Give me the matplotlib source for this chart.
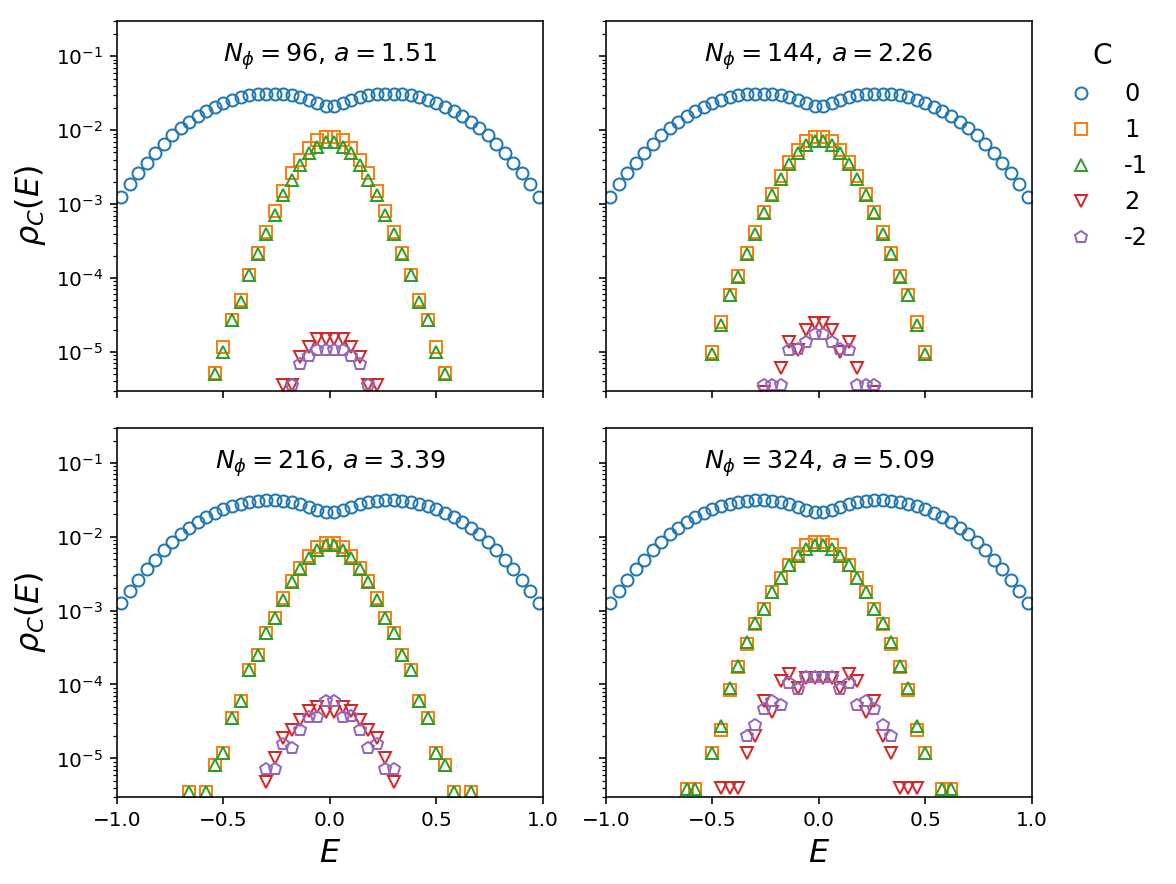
import numpy as np
import matplotlib.pyplot as plt

# ---- datos ----
panel_titles = [r'$N_\phi = 96$, $a = 1.51$', r'$N_\phi = 144$, $a = 2.26$',
                r'$N_\phi = 216$, $a = 3.39$', r'$N_\phi = 324$, $a = 5.09$']
chern_labels = ['0', '1', '-1', '2', '-2']
markers = ['o', 's', '^', 'v', 'p']
colors = ['tab:blue', 'tab:orange', 'tab:green', 'tab:red', 'tab:purple']

# C = 0 (practicamente igual en los cuatro paneles)
E_c0 = [-0.98, -0.94, -0.90, -0.86, -0.82, -0.78, -0.74, -0.70, -0.66, -0.62,
        -0.58, -0.54, -0.50, -0.46, -0.42, -0.38, -0.34, -0.30, -0.26, -0.22,
        -0.18, -0.14, -0.10, -0.06, -0.02, 0.02, 0.06, 0.10, 0.14, 0.18,
        0.22, 0.26, 0.30, 0.34, 0.38, 0.42, 0.46, 0.50, 0.54, 0.58,
        0.62, 0.66, 0.70, 0.74, 0.78, 0.82, 0.86, 0.90, 0.94, 0.98]
rho_c0 = [1.26e-3, 1.86e-3, 2.6e-3, 3.6e-3, 4.9e-3, 6.5e-3, 8.5e-3, 1.07e-2, 1.29e-2, 1.56e-2,
          1.82e-2, 2.09e-2, 2.35e-2, 2.58e-2, 2.8e-2, 2.95e-2, 3.05e-2, 3.1e-2, 3.1e-2, 3.05e-2,
          2.95e-2, 2.78e-2, 2.55e-2, 2.3e-2, 2.15e-2, 2.15e-2, 2.3e-2, 2.55e-2, 2.78e-2, 2.95e-2,
          3.05e-2, 3.1e-2, 3.1e-2, 3.05e-2, 2.95e-2, 2.8e-2, 2.58e-2, 2.35e-2, 2.09e-2, 1.82e-2,
          1.56e-2, 1.29e-2, 1.07e-2, 8.5e-3, 6.5e-3, 4.9e-3, 3.6e-3, 2.6e-3, 1.86e-3, 1.26e-3]

# Panel 1: N_phi = 96
E_c1_p1 = [-0.54, -0.50, -0.46, -0.42, -0.38, -0.34, -0.30, -0.26, -0.22, -0.18, -0.14, -0.10, -0.06, -0.02,
           0.02, 0.06, 0.10, 0.14, 0.18, 0.22, 0.26, 0.30, 0.34, 0.38, 0.42, 0.46, 0.50, 0.54]
rho_c1_p1 = [5.2e-6, 1.15e-5, 2.7e-5, 5.1e-5, 1.09e-4, 2.2e-4, 4.2e-4, 8.0e-4, 1.5e-3, 2.6e-3, 4.0e-3, 5.7e-3, 7.4e-3, 8.2e-3,
             8.2e-3, 7.4e-3, 5.7e-3, 4.0e-3, 2.6e-3, 1.5e-3, 8.0e-4, 4.2e-4, 2.2e-4, 1.09e-4, 5.1e-5, 2.7e-5, 1.15e-5, 5.2e-6]
rho_cm1_p1 = [5.0e-6, 1.0e-5, 2.7e-5, 4.8e-5, 1.1e-4, 2.1e-4, 4.0e-4, 7.1e-4, 1.32e-3, 2.1e-3, 3.4e-3, 4.9e-3, 6.0e-3, 6.9e-3,
              6.9e-3, 6.0e-3, 4.9e-3, 3.4e-3, 2.1e-3, 1.32e-3, 7.1e-4, 4.0e-4, 2.1e-4, 1.1e-4, 4.8e-5, 2.7e-5, 1.0e-5, 5.0e-6]
E_c2_p1 = [-0.22, -0.18, -0.14, -0.10, -0.06, -0.02, 0.02, 0.06, 0.10, 0.14, 0.18, 0.22]
rho_c2_p1 = [3.6e-6, 3.6e-6, 8.5e-6, 1.15e-5, 1.48e-5, 1.48e-5, 1.48e-5, 1.48e-5, 1.15e-5, 8.5e-6, 3.6e-6, 3.6e-6]
E_cm2_p1 = [-0.18, -0.14, -0.10, -0.06, -0.02, 0.02, 0.06, 0.10, 0.14, 0.18]
rho_cm2_p1 = [3.6e-6, 6.8e-6, 8.9e-6, 1.05e-5, 1.05e-5, 1.05e-5, 1.05e-5, 8.9e-6, 6.8e-6, 3.6e-6]

# Panel 2: N_phi = 144
E_c1_p2 = [-0.50, -0.46, -0.42, -0.38, -0.34, -0.30, -0.26, -0.22, -0.18, -0.14, -0.10, -0.06, -0.02,
           0.02, 0.06, 0.10, 0.14, 0.18, 0.22, 0.26, 0.30, 0.34, 0.38, 0.42, 0.46, 0.50]
rho_c1_p2 = [1.0e-5, 2.5e-5, 5.8e-5, 1.07e-4, 2.2e-4, 4.2e-4, 7.9e-4, 1.38e-3, 2.4e-3, 3.7e-3, 5.4e-3, 7.2e-3, 8.2e-3,
             8.2e-3, 7.2e-3, 5.4e-3, 3.7e-3, 2.4e-3, 1.38e-3, 7.9e-4, 4.2e-4, 2.2e-4, 1.07e-4, 5.8e-5, 2.5e-5, 1.0e-5]
rho_cm1_p2 = [9.3e-6, 2.3e-5, 5.8e-5, 1.03e-4, 2.1e-4, 4.0e-4, 7.5e-4, 1.32e-3, 2.2e-3, 3.5e-3, 4.9e-3, 6.3e-3, 7.2e-3,
              7.2e-3, 6.3e-3, 4.9e-3, 3.5e-3, 2.2e-3, 1.32e-3, 7.5e-4, 4.0e-4, 2.1e-4, 1.03e-4, 5.8e-5, 2.3e-5, 9.3e-6]
E_c2_p2 = [-0.26, -0.18, -0.14, -0.10, -0.06, -0.02, 0.02, 0.06, 0.10, 0.14, 0.18, 0.26]
rho_c2_p2 = [2.9e-6, 6.0e-6, 1.36e-5, 1.05e-5, 2.0e-5, 2.45e-5, 2.45e-5, 2.0e-5, 1.0e-5, 1.36e-5, 6.0e-6, 2.9e-6]
E_cm2_p2 = [-0.26, -0.22, -0.18, -0.14, -0.10, -0.06, -0.02, 0.02, 0.06, 0.10, 0.14, 0.18, 0.22, 0.26]
rho_cm2_p2 = [3.6e-6, 3.6e-6, 3.6e-6, 1.05e-5, 1.1e-5, 1.38e-5, 1.74e-5,
              1.74e-5, 1.38e-5, 1.1e-5, 1.05e-5, 3.6e-6, 3.6e-6, 3.6e-6]

# Panel 3: N_phi = 216
E_c1_p3 = [-0.66, -0.58, -0.54, -0.50, -0.46, -0.42, -0.38, -0.34, -0.30, -0.26, -0.22, -0.18, -0.14, -0.10, -0.06, -0.02,
           0.02, 0.06, 0.10, 0.14, 0.18, 0.22, 0.26, 0.30, 0.34, 0.38, 0.42, 0.46, 0.50, 0.54, 0.58, 0.66]
rho_c1_p3 = [3.5e-6, 3.5e-6, 8.1e-6, 1.17e-5, 3.5e-5, 6.0e-5, 1.58e-4, 2.5e-4, 5.0e-4, 7.9e-4, 1.48e-3, 2.5e-3, 3.8e-3, 5.5e-3, 7.2e-3, 8.3e-3,
             8.3e-3, 7.2e-3, 5.5e-3, 3.8e-3, 2.5e-3, 1.48e-3, 7.9e-4, 5.0e-4, 2.5e-4, 1.58e-4, 6.0e-5, 3.5e-5, 1.17e-5, 8.1e-6, 3.5e-6, 3.5e-6]
rho_cm1_p3 = [3.5e-6, 3.5e-6, 8.1e-6, 1.17e-5, 3.5e-5, 5.9e-5, 1.58e-4, 2.5e-4, 5.0e-4, 7.9e-4, 1.41e-3, 2.4e-3, 3.6e-3, 5.2e-3, 6.6e-3, 7.6e-3,
              7.6e-3, 6.6e-3, 5.2e-3, 3.6e-3, 2.4e-3, 1.41e-3, 7.9e-4, 5.0e-4, 2.5e-4, 1.58e-4, 5.9e-5, 3.5e-5, 1.17e-5, 8.1e-6, 3.5e-6, 3.5e-6]
E_c2_p3 = [-0.30, -0.26, -0.22, -0.18, -0.14, -0.10, -0.06, -0.02, 0.02, 0.06, 0.10, 0.14, 0.18, 0.22, 0.26, 0.30]
rho_c2_p3 = [4.8e-6, 1.0e-5, 1.9e-5, 2.4e-5, 3.3e-5, 4.4e-5, 5.0e-5, 4.3e-5,
             4.3e-5, 5.0e-5, 4.4e-5, 3.3e-5, 2.4e-5, 1.9e-5, 1.0e-5, 4.8e-6]
E_cm2_p3 = [-0.30, -0.26, -0.22, -0.18, -0.14, -0.10, -0.06, -0.02, 0.02, 0.06, 0.10, 0.14, 0.18, 0.22, 0.26, 0.30]
rho_cm2_p3 = [7.1e-6, 7.1e-6, 1.56e-5, 1.4e-5, 2.4e-5, 3.6e-5, 3.6e-5, 5.9e-5,
              5.9e-5, 3.6e-5, 3.8e-5, 2.4e-5, 1.4e-5, 1.56e-5, 7.1e-6, 7.1e-6]

# Panel 4: N_phi = 324
E_c1_p4 = [-0.62, -0.58, -0.50, -0.46, -0.42, -0.38, -0.34, -0.30, -0.26, -0.22, -0.18, -0.14, -0.10, -0.06, -0.02,
           0.02, 0.06, 0.10, 0.14, 0.18, 0.22, 0.26, 0.30, 0.34, 0.38, 0.42, 0.46, 0.50, 0.58, 0.62]
rho_c1_p4 = [3.8e-6, 3.8e-6, 1.17e-5, 2.4e-5, 8.5e-5, 1.72e-4, 3.5e-4, 6.5e-4, 1.05e-3, 1.77e-3, 2.8e-3, 4.1e-3, 5.9e-3, 7.6e-3, 8.4e-3,
             8.4e-3, 7.6e-3, 5.9e-3, 4.1e-3, 2.8e-3, 1.77e-3, 1.05e-3, 6.5e-4, 3.5e-4, 1.72e-4, 8.5e-5, 2.4e-5, 1.17e-5, 3.8e-6, 3.8e-6]
rho_cm1_p4 = [3.8e-6, 3.8e-6, 1.17e-5, 2.7e-5, 9.0e-5, 1.78e-4, 3.7e-4, 6.7e-4, 1.05e-3, 1.77e-3, 2.8e-3, 4.1e-3, 5.4e-3, 6.8e-3, 7.7e-3,
              7.7e-3, 6.8e-3, 5.4e-3, 4.1e-3, 2.8e-3, 1.77e-3, 1.05e-3, 6.7e-4, 3.7e-4, 1.78e-4, 9.0e-5, 2.7e-5, 1.17e-5, 3.8e-6, 3.8e-6]
E_c2_p4 = [-0.46, -0.42, -0.38, -0.34, -0.30, -0.26, -0.22, -0.18, -0.14, -0.10, -0.06, -0.02,
           0.02, 0.06, 0.10, 0.14, 0.18, 0.22, 0.26, 0.30, 0.34, 0.38, 0.42, 0.46]
rho_c2_p4 = [4.0e-6, 4.0e-6, 4.0e-6, 1.2e-5, 2.0e-5, 5.9e-5, 4.3e-5, 1.1e-4, 1.37e-4, 9.0e-5, 1.23e-4, 1.23e-4,
             1.23e-4, 1.23e-4, 9.0e-5, 1.37e-4, 1.1e-4, 4.3e-5, 5.9e-5, 2.0e-5, 1.2e-5, 4.0e-6, 4.0e-6, 4.0e-6]
E_cm2_p4 = [-0.34, -0.30, -0.26, -0.22, -0.18, -0.14, -0.10, -0.06, -0.02,
            0.02, 0.06, 0.10, 0.14, 0.18, 0.22, 0.26, 0.30, 0.34]
rho_cm2_p4 = [2.0e-5, 2.8e-5, 4.6e-5, 6.0e-5, 5.2e-5, 1.05e-4, 8.7e-5, 1.27e-4, 1.27e-4,
              1.27e-4, 1.27e-4, 8.7e-5, 1.05e-4, 5.2e-5, 6.0e-5, 4.6e-5, 2.8e-5, 2.0e-5]

panels = [
    [(E_c0, rho_c0), (E_c1_p1, rho_c1_p1), (E_c1_p1, rho_cm1_p1), (E_c2_p1, rho_c2_p1), (E_cm2_p1, rho_cm2_p1)],
    [(E_c0, rho_c0), (E_c1_p2, rho_c1_p2), (E_c1_p2, rho_cm1_p2), (E_c2_p2, rho_c2_p2), (E_cm2_p2, rho_cm2_p2)],
    [(E_c0, rho_c0), (E_c1_p3, rho_c1_p3), (E_c1_p3, rho_cm1_p3), (E_c2_p3, rho_c2_p3), (E_cm2_p3, rho_cm2_p3)],
    [(E_c0, rho_c0), (E_c1_p4, rho_c1_p4), (E_c1_p4, rho_cm1_p4), (E_c2_p4, rho_c2_p4), (E_cm2_p4, rho_cm2_p4)],
]

fig, axes = plt.subplots(2, 2, figsize=(8.1667, 6.1389), dpi=144, sharex=True, sharey=True)
fig.subplots_adjust(left=0.0995, right=0.8775, bottom=0.0984, top=0.9762,
                    wspace=0.148, hspace=0.1)

for k, ax in enumerate(axes.flat):
    for (E, rho), lab, m, c in zip(panels[k], chern_labels, markers, colors):
        ax.plot(E, rho, linestyle='none', marker=m, color=c,
                markerfacecolor='none', label=lab)
    ax.set_yscale('log')
    ax.set_xlim(-1, 1)
    ax.set_ylim(3e-6, 3e-1)
    ax.set_xticks([-1.0, -0.5, 0.0, 0.5, 1.0])
    ax.text(0.5, 0.903, panel_titles[k], transform=ax.transAxes,
            ha='center', va='center', fontsize=12.7)

for ax in axes[1, :]:
    ax.set_xlabel(r'$E$', fontsize=16)
for ax in axes[:, 0]:
    ax.set_ylabel(r'$\rho_C(E)$', fontsize=16)

handles, labels = axes[0, 0].get_legend_handles_labels()
fig.legend(handles, labels, title='C', loc='upper left',
           bbox_to_anchor=(0.8805, 0.977), frameon=False,
           fontsize=12, title_fontsize=14)

fig.savefig('out.png', dpi=144)
